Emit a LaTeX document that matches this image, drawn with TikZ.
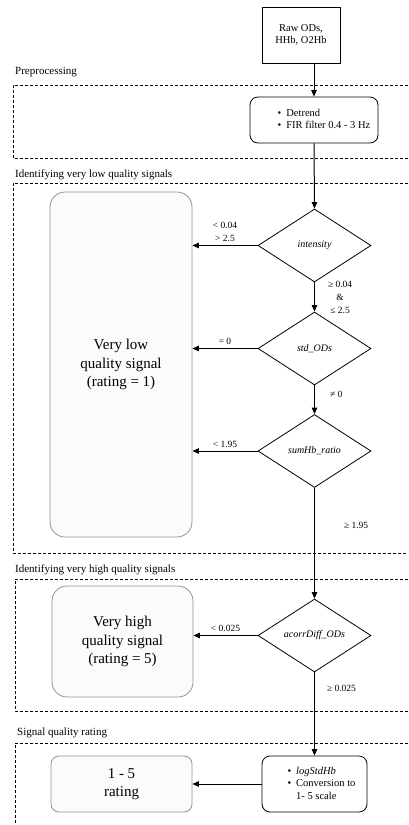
\documentclass[tikz,border=0pt]{standalone}
\usepackage{fontspec}
\setmainfont{Liberation Serif}
\usetikzlibrary{shapes.geometric,arrows.meta}
\begin{document}
\begin{tikzpicture}[x=1pt,y=-1pt,
  every node/.style={font=\fontsize{10.5}{12.5}\selectfont},
  arr/.style={draw, line width=1pt, -{Triangle[length=6.5pt,width=5.5pt]}},
  sectionbox/.style={draw, dashed, dash pattern=on 3pt off 2pt, line width=0.7pt},
  blackbox/.style={draw, line width=0.8pt, align=center, inner sep=0pt},
  graybox/.style={draw=gray!85, fill=gray!3, line width=0.8pt, align=center, inner sep=0pt, font=\fontsize{15}{18.5}\selectfont},
  dec/.style={draw, diamond, line width=0.8pt, minimum width=113pt, minimum height=73pt, inner sep=0pt, font=\fontsize{10}{12}\selectfont\itshape},
  lbl/.style={font=\fontsize{9.5}{13}\selectfont, align=center, inner sep=1pt},
  sec/.style={font=\fontsize{11}{13}\selectfont, anchor=west, inner sep=0pt}
]
\useasboundingbox (0,0) rectangle (408,825);

% section frames
\draw[sectionbox] (408,85) -- (13,85) -- (13,158) -- (408,158);
\draw[sectionbox] (408,183) -- (13,183) -- (13,553) -- (408,553);
\draw[sectionbox] (408,579) -- (15,579) -- (15,711) -- (408,711);
\draw[sectionbox] (408,743) -- (15,743) -- (15,825);
\node[sec] (s1) at (15,72) {Preprocessing};
\node[sec] (s2) at (15,175) {Identifying very low quality signals};
\node[sec] (s3) at (15,570) {Identifying very high quality signals};
\node[sec] (s4) at (17,733) {Signal quality rating};

% nodes
\node[blackbox, minimum width=78pt, minimum height=56pt] (raw) at (301,35) {Raw ODs,\\HHb, O2Hb};
\node[blackbox, rounded corners=8pt, minimum width=128pt, minimum height=46pt] (pre) at (314,120)
  {\begin{tabular}{@{\hspace{20pt}}l@{\hspace{5pt}}l@{}}\textbullet & Detrend\\ \textbullet & FIR filter 0.4 - 3 Hz\end{tabular}};
\node[dec] (int) at (314.5,245.5) {intensity};
\node[dec] (std) at (314.5,348.5) {std\_ODs};
\node[dec] (sum) at (314.5,451) {sumHb\_ratio};
\node[dec] (acorr) at (314.5,635.5) {acorrDiff\_ODs};
\node[blackbox, rounded corners=8pt, minimum width=105pt, minimum height=56pt] (log) at (314.5,784)
  {\begin{tabular}{@{\hspace{14pt}}l@{\hspace{5pt}}l@{}}\textbullet & \textit{logStdHb}\\ \textbullet & Conversion to\\ & 1- 5 scale\end{tabular}};
\node[graybox, rounded corners=15pt, minimum width=142pt, minimum height=345pt] (low) at (121,364.5) {Very low\\quality signal\\(rating = 1)};
\node[graybox, rounded corners=15pt, minimum width=141pt, minimum height=111pt] (high) at (122.5,641.5) {Very high\\quality signal\\(rating = 5)};
\node[graybox, rounded corners=8pt, minimum width=141pt, minimum height=56pt] (rate) at (121.5,784) {1 - 5\\rating};

% connectors
\draw[arr] (raw.south -| pre.north) -- (pre.north);
\draw[arr] (pre.south) -- (int.north);
\draw[arr] (int.west) -- (int.west -| low.east) node[lbl, midway, above=2pt] {< 0.04\\> 2.5};
\draw[arr] (int.south) -- (std.north) node[lbl, midway, right=12pt] {≥ 0.04\\\&\\≤ 2.5};
\draw[arr] (std.west) -- (std.west -| low.east) node[lbl, midway, above=2pt] {= 0};
\draw[arr] (std.south) -- (sum.north) node[lbl, pos=0.3, right=14pt] {≠ 0};
\draw[arr] (sum.west) -- (sum.west -| low.east) node[lbl, midway, above=2pt] {< 1.95};
\draw[arr] (sum.south) -- (acorr.north) node[lbl, pos=0.34, right=28pt] {≥ 1.95};
\draw[arr] (acorr.west) -- (acorr.west -| high.east) node[lbl, midway, above=2pt] {< 0.025};
\draw[arr] (acorr.south) -- (log.north) node[lbl, pos=0.19, right=11pt] {≥ 0.025};
\draw[arr] (log.west) -- (rate.east);
\end{tikzpicture}
\end{document}
